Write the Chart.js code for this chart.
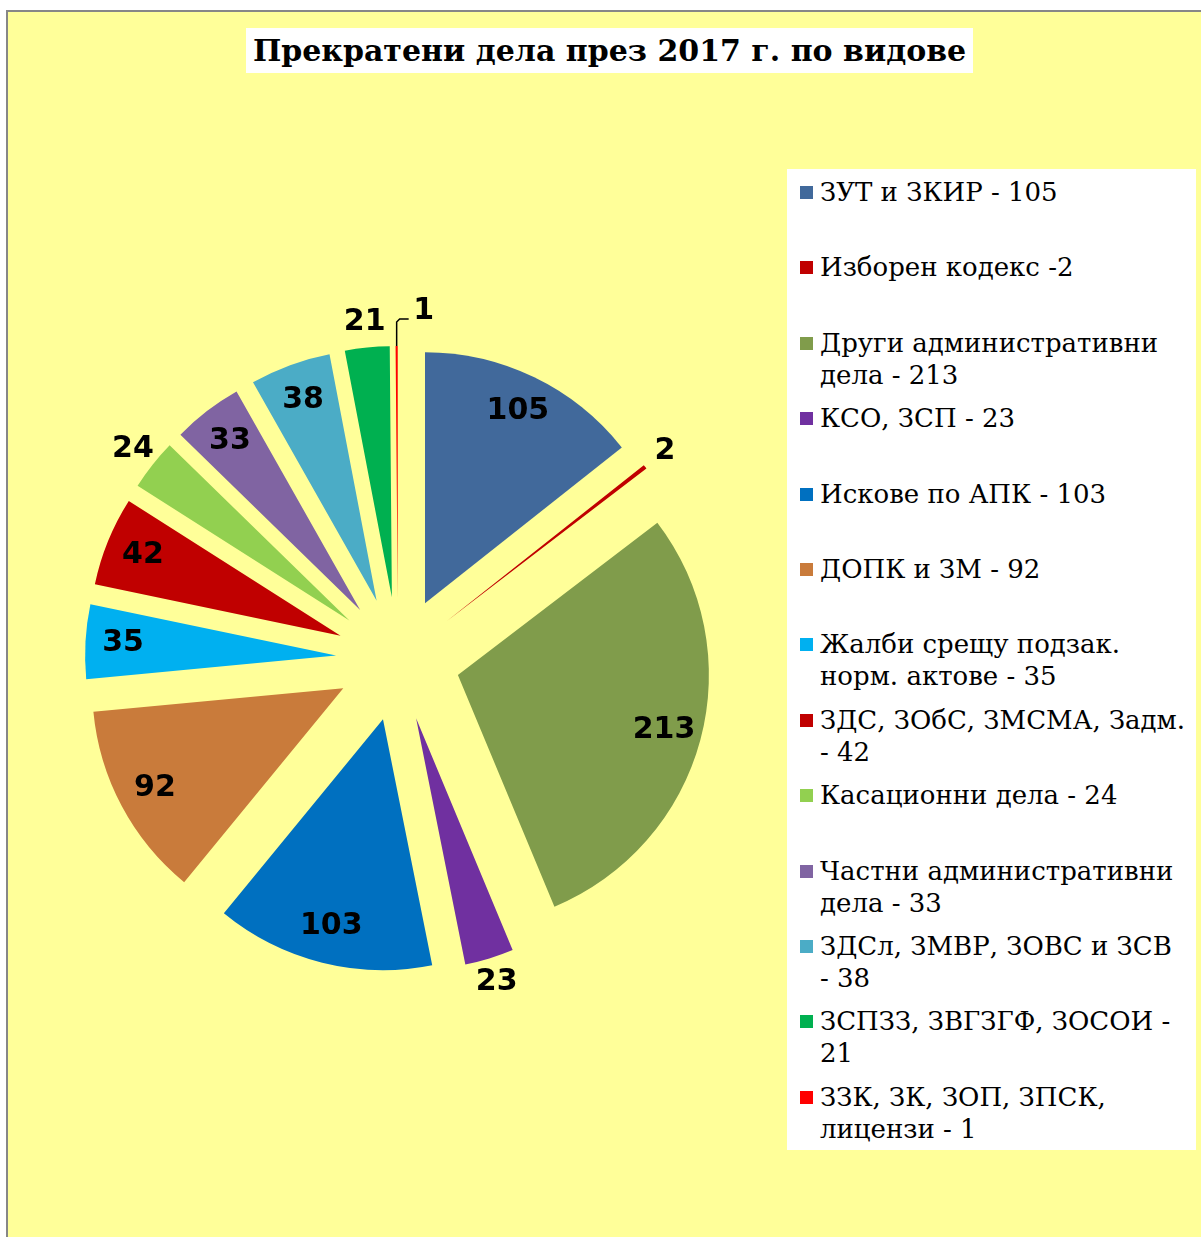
<!DOCTYPE html>
<html>
<head>
<meta charset="utf-8">
<script src="https://cdn.jsdelivr.net/npm/chart.js@4/dist/chart.umd.min.js"></script>
<style>
    body { margin: 0; background: #ffffff; width: 1201px; height: 1237px; overflow: hidden; position: relative; }
    #frame { position: absolute; left: 6px; top: 10px; width: 1300px; height: 1300px; background: #ffff99; border-left: 2px solid #878787; border-top: 2px solid #878787; }
    #title { position: absolute; left: 246px; top: 28px; width: 727px; height: 45px; background: #ffffff; font-family: "DejaVu Serif", serif; font-weight: bold; font-size: 30px; line-height: 45px; text-align: center; color: #000; white-space: nowrap; }
    #pieChart { position: absolute; left: 0; top: 0; }
    #legend { position: absolute; left: 787px; top: 169px; width: 409px; height: 981px; background: #ffffff; }
    .item { position: absolute; left: 33px; font-family: "DejaVu Serif", serif; font-size: 26px; line-height: 32px; color: #000; white-space: pre; }
    .box { position: absolute; left: -20px; top: 10px; width: 13px; height: 13px; }
</style>
</head>
<body>
<div id="frame"></div>
<div id="title">Прекратени дела през 2017 г. по видове</div>
<canvas id="pieChart" width="1201" height="1237"></canvas>
<div id="legend"></div>
<script>
let categories = ["ЗУТ и ЗКИР", "Изборен кодекс", "Други административни дела", "КСО, ЗСП", "Искове по АПК", "ДОПК и ЗМ", "Жалби срещу подзак. норм. актове", "ЗДС, ЗОбС, ЗМСМА, Задм.", "Касационни дела", "Частни административни дела", "ЗДСл, ЗМВР, ЗОВС и ЗСВ", "ЗСПЗЗ, ЗВГЗГФ, ЗОСОИ", "ЗЗК, ЗК, ЗОП, ЗПСК, лицензи"];
let values = [105, 2, 213, 23, 103, 92, 35, 42, 24, 33, 38, 21, 1];
let legendLabels = [
    "ЗУТ и ЗКИР - 105",
    "Изборен кодекс -2",
    "Други административни\nдела - 213",
    "КСО, ЗСП - 23",
    "Искове по АПК - 103",
    "ДОПК и ЗМ - 92",
    "Жалби срещу подзак.\nнорм. актове - 35",
    "ЗДС, ЗОбС, ЗМСМА, Задм.\n- 42",
    "Касационни дела - 24",
    "Частни административни\nдела - 33",
    "ЗДСл, ЗМВР, ЗОВС и ЗСВ\n- 38",
    "ЗСПЗЗ, ЗВГЗГФ, ЗОСОИ -\n21",
    "ЗЗК, ЗК, ЗОП, ЗПСК,\nлицензи - 1"
];
let colors = ["#41699b", "#c00000", "#809c4b", "#7030a0", "#0070c0", "#c97b3b", "#00b0f0", "#c00000", "#92d050", "#8064a2", "#4bacc6", "#00b050", "#ff0000"];

const EXPLODE = 62;

// move every slice out along its own middle angle
const explodePlugin = {
    id: "explode",
    afterDatasetUpdate: function(chart, args) {
        let arcs = chart.getDatasetMeta(args.index).data;
        for (let i = 0; i < arcs.length; i++) {
            let mid = (arcs[i].startAngle + arcs[i].endAngle) / 2;
            arcs[i].x += EXPLODE * Math.cos(mid);
            arcs[i].y += EXPLODE * Math.sin(mid);
        }
    }
};

const valueLabels = {
    id: "valueLabels",
    afterDatasetsDraw: function(chart) {
        let ctx = chart.ctx;
        let arcs = chart.getDatasetMeta(0).data;
        let data = chart.data.datasets[0].data;
        ctx.save();
        ctx.font = "bold 30px 'DejaVu Sans'";
        ctx.fillStyle = "#000";
        ctx.textAlign = "center";
        ctx.textBaseline = "middle";
        for (let i = 0; i < arcs.length; i++) {
            let a = arcs[i];
            let mid = (a.startAngle + a.endAngle) / 2;
            let r = a.outerRadius;
            let cos = Math.cos(mid);
            let sin = Math.sin(mid);
            if (a.endAngle - a.startAngle < 0.7 * Math.PI / 180) {
                // tiny slice: label with leader line
                let tx = a.x + r * cos;
                let ty = a.y + r * sin;
                ctx.strokeStyle = "#000";
                ctx.lineWidth = 1.5;
                ctx.beginPath();
                ctx.moveTo(tx, ty);
                ctx.lineTo(tx, ty - 24);
                ctx.lineTo(tx + 3, ty - 27);
                ctx.lineTo(tx + 12, ty - 27);
                ctx.stroke();
                ctx.fillText(data[i], tx + 27, ty - 35);
            } else if (data[i] < 30) {
                ctx.fillText(data[i], a.x + (r + 25) * cos, a.y + (r + 25) * sin);
            } else {
                ctx.fillText(data[i], a.x + 0.85 * r * cos, a.y + 0.85 * r * sin);
            }
        }
        ctx.restore();
    }
};

function buildLegend() {
    let legend = document.getElementById("legend");
    for (let i = 0; i < legendLabels.length; i++) {
        let item = document.createElement("div");
        item.className = "item";
        item.style.top = (7 + 75.4 * i) + "px";
        item.textContent = legendLabels[i];
        let box = document.createElement("span");
        box.className = "box";
        box.style.background = colors[i];
        item.appendChild(box);
        legend.appendChild(item);
    }
}

let pieChart = new Chart(document.getElementById("pieChart"), {
    type: "pie",
    data: {
        labels: categories,
        datasets: [{
            data: values,
            backgroundColor: colors,
            borderWidth: 0
        }]
    },
    options: {
        responsive: false,
        animation: false,
        radius: 251,
        layout: {
            padding: { left: 0, right: 405, top: 81, bottom: 0 }
        },
        plugins: {
            legend: { display: false },
            title: { display: false },
            tooltip: { enabled: false }
        }
    },
    plugins: [explodePlugin, valueLabels]
});

buildLegend();
</script>
</body>
</html>
